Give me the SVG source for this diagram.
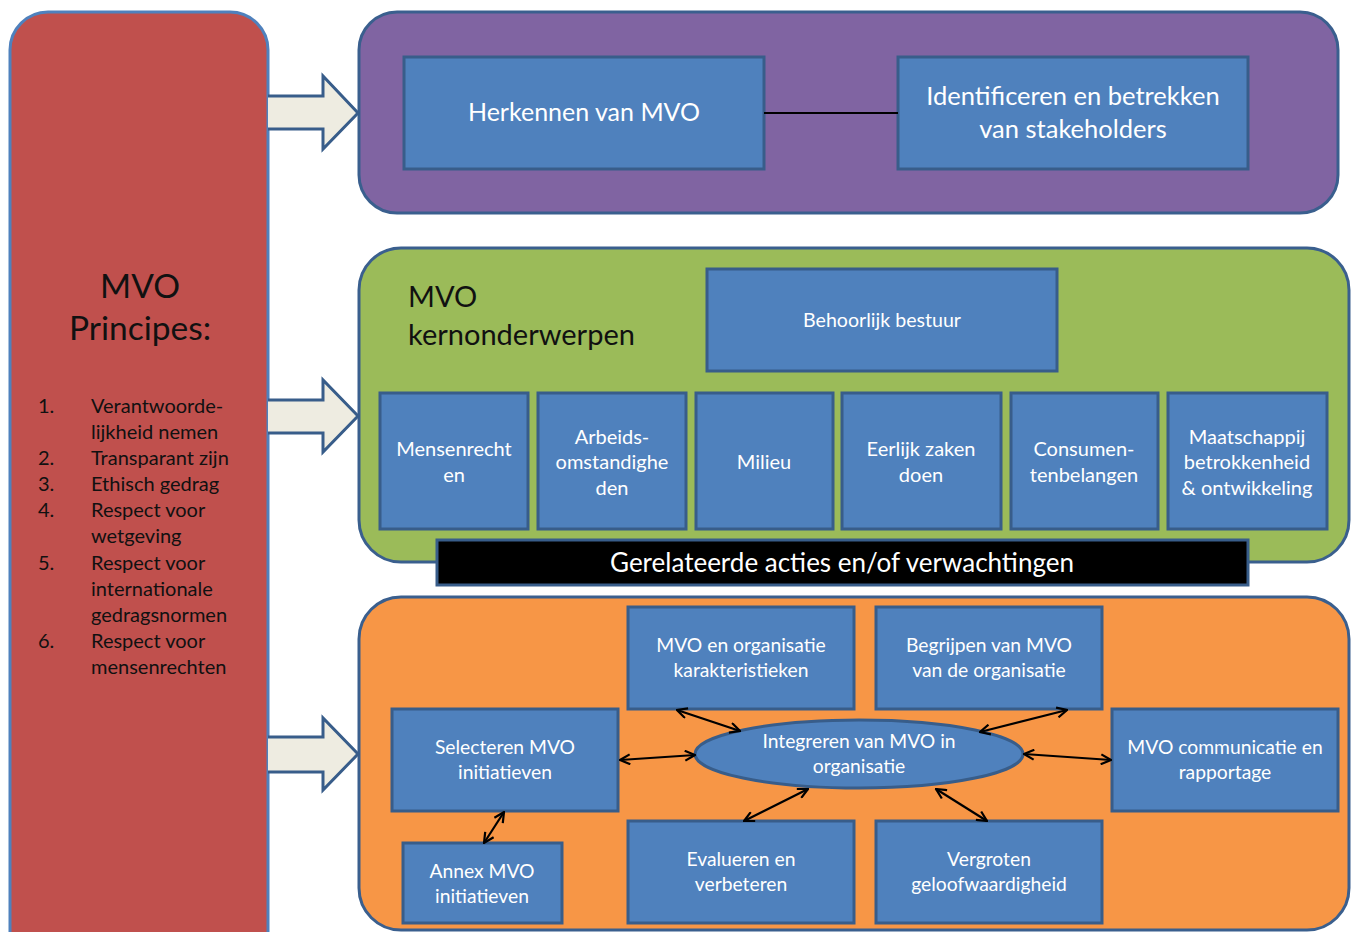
<svg xmlns="http://www.w3.org/2000/svg" width="1355" height="932" viewBox="0 0 1355 932">
  <style>
    .panel { stroke: #3A5F8E; stroke-width: 3; }
    .box { fill: #4F81BD; stroke: #385D8A; stroke-width: 3; }
    .blockarrow { fill: #EEECE1; stroke: #385D8A; stroke-width: 3; stroke-linejoin: miter; }
    .lbl { font-family: Lato, "Liberation Sans", sans-serif; fill: #FFFFFF; text-anchor: middle; }
    .dark { font-family: Lato, "Liberation Sans", sans-serif; fill: #111111; }
    .link { stroke: #000000; stroke-width: 2.2; fill: none; marker-start: url(#head); marker-end: url(#head); }
  </style>
  <defs>
    <marker id="head" viewBox="0 0 12 12" refX="11" refY="6" markerWidth="12" markerHeight="12" markerUnits="userSpaceOnUse" orient="auto-start-reverse">
      <path d="M1,1 L11,6 L1,11" fill="none" stroke="#000000" stroke-width="2.2"/>
    </marker>
  </defs>

  <rect width="1355" height="932" fill="#FFFFFF"/>

  <!-- Principles column -->
  <g id="principes">
    <rect x="10" y="12" width="258" height="960" rx="38" fill="#C0504D" stroke="#4F81BD" stroke-width="3"/>
    <text class="dark" x="140" y="298" font-size="33.5" text-anchor="middle">MVO</text>
    <text class="dark" x="140" y="340" font-size="33.5" text-anchor="middle">Principes:</text>
    <g font-size="20">
      <text class="dark" x="38" y="413">1.</text>
      <text class="dark" x="91" y="413">Verantwoorde-</text>
      <text class="dark" x="91" y="439">lijkheid nemen</text>
      <text class="dark" x="38" y="465">2.</text>
      <text class="dark" x="91" y="465">Transparant zijn</text>
      <text class="dark" x="38" y="491">3.</text>
      <text class="dark" x="91" y="491">Ethisch gedrag</text>
      <text class="dark" x="38" y="517">4.</text>
      <text class="dark" x="91" y="517">Respect voor</text>
      <text class="dark" x="91" y="543">wetgeving</text>
      <text class="dark" x="38" y="570">5.</text>
      <text class="dark" x="91" y="570">Respect voor</text>
      <text class="dark" x="91" y="596">internationale</text>
      <text class="dark" x="91" y="622">gedragsnormen</text>
      <text class="dark" x="38" y="648">6.</text>
      <text class="dark" x="91" y="648">Respect voor</text>
      <text class="dark" x="91" y="674">mensenrechten</text>
    </g>
  </g>

  <!-- Top panel -->
  <g id="panel-herkennen">
    <rect class="panel" x="359" y="12" width="979" height="201" rx="38" fill="#8064A2"/>
  </g>
  <g id="herkennen">
    <rect class="box" x="404" y="57" width="360" height="112"/>
    <text class="lbl" x="584" y="121" font-size="25">Herkennen van MVO</text>
  </g>
  <g id="stakeholders">
    <rect class="box" x="898" y="57" width="350" height="112"/>
    <text class="lbl" x="1073" y="105" font-size="25.5">Identificeren en betrekken</text>
    <text class="lbl" x="1073" y="138" font-size="25.5">van stakeholders</text>
  </g>

  <!-- Core subjects panel -->
  <g id="panel-kernonderwerpen">
    <rect class="panel" x="359" y="248" width="990" height="314" rx="42" fill="#9BBB59"/>
    <text class="dark" x="408" y="307" font-size="29">MVO</text>
    <text class="dark" x="408" y="345" font-size="29">kernonderwerpen</text>
  </g>
  <g id="bestuur">
    <rect class="box" x="707" y="269" width="350" height="102"/>
    <text class="lbl" x="882" y="327" font-size="19.6">Behoorlijk bestuur</text>
  </g>
  <g id="mensenrechten">
    <rect class="box" x="380" y="393" width="148" height="136"/>
    <text class="lbl" x="454" y="456" font-size="20">Mensenrecht</text>
    <text class="lbl" x="454" y="482" font-size="20">en</text>
  </g>
  <g id="arbeid">
    <rect class="box" x="538" y="393" width="148" height="136"/>
    <text class="lbl" x="612" y="444" font-size="20">Arbeids-</text>
    <text class="lbl" x="612" y="469" font-size="20">omstandighe</text>
    <text class="lbl" x="612" y="495" font-size="20">den</text>
  </g>
  <g id="milieu">
    <rect class="box" x="696" y="393" width="137" height="136"/>
    <text class="lbl" x="764" y="469" font-size="20">Milieu</text>
  </g>
  <g id="eerlijk">
    <rect class="box" x="842" y="393" width="159" height="136"/>
    <text class="lbl" x="921" y="456" font-size="20">Eerlijk zaken</text>
    <text class="lbl" x="921" y="482" font-size="20">doen</text>
  </g>
  <g id="consumenten">
    <rect class="box" x="1011" y="393" width="147" height="136"/>
    <text class="lbl" x="1084" y="456" font-size="20">Consumen-</text>
    <text class="lbl" x="1084" y="482" font-size="20">tenbelangen</text>
  </g>
  <g id="maatschappij">
    <rect class="box" x="1168" y="393" width="159" height="136"/>
    <text class="lbl" x="1247" y="444" font-size="20">Maatschappij</text>
    <text class="lbl" x="1247" y="469" font-size="20">betrokkenheid</text>
    <text class="lbl" x="1247" y="495" font-size="20">&amp; ontwikkeling</text>
  </g>
  <g id="acties">
    <rect x="437" y="540" width="811" height="45" fill="#000000" stroke="#385D8A" stroke-width="3"/>
    <text class="lbl" x="842" y="572" font-size="26">Gerelateerde acties en/of verwachtingen</text>
  </g>

  <!-- Implementation panel -->
  <g id="panel-integratie">
    <rect class="panel" x="359" y="597" width="990" height="333" rx="42" fill="#F79646"/>
  </g>
  <g id="karakteristieken">
    <rect class="box" x="628" y="607" width="226" height="102"/>
    <text class="lbl" x="741" y="652" font-size="19.3">MVO en organisatie</text>
    <text class="lbl" x="741" y="677" font-size="19.3">karakteristieken</text>
  </g>
  <g id="begrijpen">
    <rect class="box" x="876" y="607" width="226" height="102"/>
    <text class="lbl" x="989" y="652" font-size="19.3">Begrijpen van MVO</text>
    <text class="lbl" x="989" y="677" font-size="19.3">van de organisatie</text>
  </g>
  <g id="selecteren">
    <rect class="box" x="392" y="709" width="226" height="102"/>
    <text class="lbl" x="505" y="754" font-size="19.3">Selecteren MVO</text>
    <text class="lbl" x="505" y="779" font-size="19.3">initiatieven</text>
  </g>
  <g id="communicatie">
    <rect class="box" x="1112" y="709" width="226" height="102"/>
    <text class="lbl" x="1225" y="754" font-size="19.3">MVO communicatie en</text>
    <text class="lbl" x="1225" y="779" font-size="19.3">rapportage</text>
  </g>
  <g id="annex">
    <rect class="box" x="403" y="843" width="159" height="80"/>
    <text class="lbl" x="482" y="878" font-size="19.3">Annex MVO</text>
    <text class="lbl" x="482" y="903" font-size="19.3">initiatieven</text>
  </g>
  <g id="evalueren">
    <rect class="box" x="628" y="821" width="226" height="102"/>
    <text class="lbl" x="741" y="866" font-size="19.3">Evalueren en</text>
    <text class="lbl" x="741" y="891" font-size="19.3">verbeteren</text>
  </g>
  <g id="geloofwaardigheid">
    <rect class="box" x="876" y="821" width="226" height="102"/>
    <text class="lbl" x="989" y="866" font-size="19.3">Vergroten</text>
    <text class="lbl" x="989" y="891" font-size="19.3">geloofwaardigheid</text>
  </g>
  <g id="integreren">
    <ellipse cx="859" cy="754" rx="164" ry="34" fill="#4F81BD" stroke="#385D8A" stroke-width="3"/>
    <text class="lbl" x="859" y="748" font-size="19.3">Integreren van MVO in</text>
    <text class="lbl" x="859" y="773" font-size="19.3">organisatie</text>
  </g>

  <!-- Connectors -->
  <g id="connectors">
    <path class="blockarrow" d="M268,96 L323,96 L323,76 L358,113 L323,149 L323,129 L268,129"/>
    <path class="blockarrow" d="M268,400 L323,400 L323,380 L358,416 L323,452 L323,433 L268,433"/>
    <path class="blockarrow" d="M268,737 L323,737 L323,718 L358,754 L323,790 L323,772 L268,772"/>
    <line x1="764" y1="113" x2="898" y2="113" stroke="#000000" stroke-width="2"/>
    <line class="link" x1="620" y1="760" x2="695" y2="755"/>
    <line class="link" x1="677" y1="710" x2="740" y2="731"/>
    <line class="link" x1="808" y1="789" x2="744" y2="821"/>
    <line class="link" x1="504" y1="812" x2="484" y2="843"/>
    <line class="link" x1="1067" y1="710" x2="980" y2="732"/>
    <line class="link" x1="1024" y1="754" x2="1111" y2="760"/>
    <line class="link" x1="936" y1="789" x2="987" y2="821"/>
  </g>
</svg>
